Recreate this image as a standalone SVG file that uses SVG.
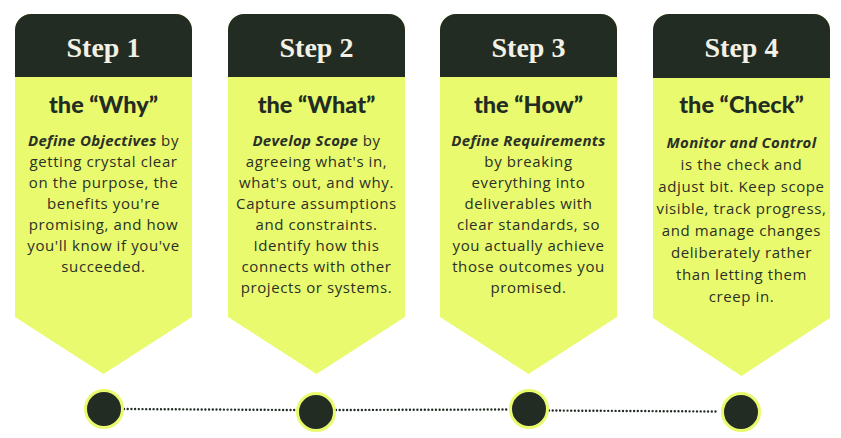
<svg xmlns="http://www.w3.org/2000/svg" width="841" height="438" viewBox="0 0 841 438">
<style>
.card{fill:#e9fa6e}
.head{fill:#232c23}
.step{font-family:"Liberation Serif",serif;font-weight:700;font-size:28px;fill:#f3f1e6;text-anchor:middle}
.title{font-family:Lato,"Liberation Sans",sans-serif;font-weight:900;font-size:23.5px;fill:#232c23;text-anchor:middle}
.body{font-family:"Open Sans","Liberation Sans",sans-serif;font-size:15px;letter-spacing:0.6px;fill:#2b3027;text-anchor:middle}
.b{font-weight:700;font-style:italic;letter-spacing:0.3px}
.dot{fill:#232c23;stroke:#e9fa6e;stroke-width:3}
.conn{stroke:#232c23;stroke-width:2.4;stroke-linecap:round;stroke-dasharray:0 3.7;fill:none}
</style>
<rect width="841" height="438" fill="#ffffff"/>
<g id="connectors">
<line class="conn" x1="124" y1="409" x2="296" y2="410"/>
<line class="conn" x1="336" y1="410" x2="509" y2="409.5"/>
<line class="conn" x1="549" y1="410.5" x2="718" y2="411.5"/>
</g>
<g id="step1">
<path class="card" d="M15,30 a16,16 0 0 1 16,-16 h145 a16,16 0 0 1 16,16 V317 L103.5,374 L15,317 Z"/>
<path class="head" d="M15,77 V30 a16,16 0 0 1 16,-16 h145 a16,16 0 0 1 16,16 V77 Z"/>
<text class="step" x="103.5" y="57">Step 1</text>
<text class="title" x="103.5" y="113">the “Why”</text>
<text class="body" x="103.5" y="146"><tspan class="b">Define Objectives</tspan> by</text>
<text class="body" x="103.5" y="167">getting crystal clear</text>
<text class="body" x="103.5" y="188">on the purpose, the</text>
<text class="body" x="103.5" y="209">benefits you're</text>
<text class="body" x="103.5" y="230">promising, and how</text>
<text class="body" x="103.5" y="251">you'll know if you've</text>
<text class="body" x="103.5" y="272">succeeded.</text>
</g>
<g id="step2">
<path class="card" d="M228,30 a16,16 0 0 1 16,-16 h145 a16,16 0 0 1 16,16 V317 L316.5,374 L228,317 Z"/>
<path class="head" d="M228,77 V30 a16,16 0 0 1 16,-16 h145 a16,16 0 0 1 16,16 V77 Z"/>
<text class="step" x="316.5" y="57">Step 2</text>
<text class="title" x="316.5" y="113">the “What”</text>
<text class="body" x="316.5" y="146"><tspan class="b">Develop Scope</tspan> by</text>
<text class="body" x="316.5" y="167">agreeing what's in,</text>
<text class="body" x="316.5" y="188">what's out, and why.</text>
<text class="body" x="316.5" y="209">Capture assumptions</text>
<text class="body" x="316.5" y="230">and constraints.</text>
<text class="body" x="316.5" y="251">Identify how this</text>
<text class="body" x="316.5" y="272">connects with other</text>
<text class="body" x="316.5" y="293">projects or systems.</text>
</g>
<g id="step3">
<path class="card" d="M440,30 a16,16 0 0 1 16,-16 h145 a16,16 0 0 1 16,16 V317 L528.5,374 L440,317 Z"/>
<path class="head" d="M440,77 V30 a16,16 0 0 1 16,-16 h145 a16,16 0 0 1 16,16 V77 Z"/>
<text class="step" x="528.5" y="57">Step 3</text>
<text class="title" x="528.5" y="113">the “How”</text>
<text class="body" x="528.5" y="146"><tspan class="b">Define Requirements</tspan></text>
<text class="body" x="528.5" y="167">by breaking</text>
<text class="body" x="528.5" y="188">everything into</text>
<text class="body" x="528.5" y="209">deliverables with</text>
<text class="body" x="528.5" y="230">clear standards, so</text>
<text class="body" x="528.5" y="251">you actually achieve</text>
<text class="body" x="528.5" y="272">those outcomes you</text>
<text class="body" x="528.5" y="293">promised.</text>
</g>
<g id="step4">
<path class="card" d="M653,30 a16,16 0 0 1 16,-16 h145 a16,16 0 0 1 16,16 V318 L741.5,376 L653,318 Z"/>
<path class="head" d="M653,78 V30 a16,16 0 0 1 16,-16 h145 a16,16 0 0 1 16,16 V78 Z"/>
<text class="step" x="741.5" y="57">Step 4</text>
<text class="title" x="741.5" y="113">the “Check”</text>
<text class="body" x="741.5" y="147.5"><tspan class="b">Monitor and Control</tspan></text>
<text class="body" x="741.5" y="169.5">is the check and</text>
<text class="body" x="741.5" y="191.5">adjust bit. Keep scope</text>
<text class="body" x="741.5" y="213.5">visible, track progress,</text>
<text class="body" x="741.5" y="235.5">and manage changes</text>
<text class="body" x="741.5" y="257.5">deliberately rather</text>
<text class="body" x="741.5" y="279.5">than letting them</text>
<text class="body" x="741.5" y="301.5">creep in.</text>
</g>
<g id="dot1"><circle class="dot" cx="104" cy="409" r="18.5"/></g>
<g id="dot2"><circle class="dot" cx="316" cy="412" r="18.5"/></g>
<g id="dot3"><circle class="dot" cx="529" cy="409" r="18.5"/></g>
<g id="dot4"><circle class="dot" cx="741" cy="412" r="18.5"/></g>
</svg>
